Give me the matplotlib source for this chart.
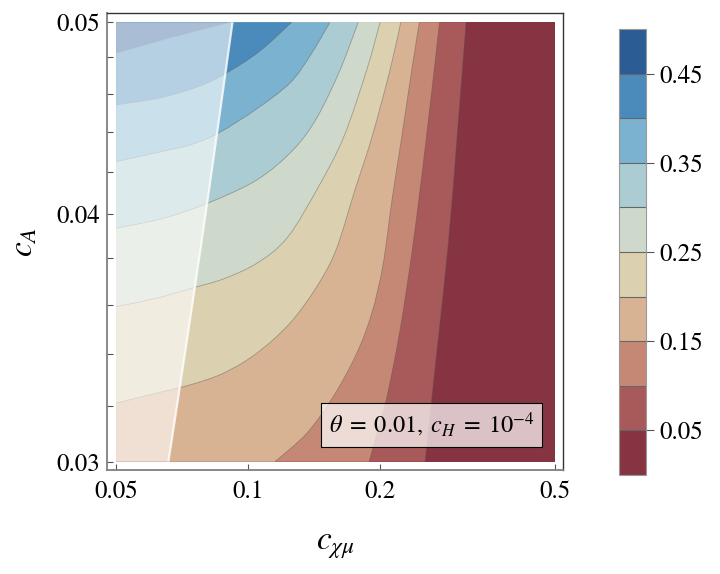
import numpy as np
import matplotlib
matplotlib.use('Agg')
import matplotlib.pyplot as plt
from matplotlib.colors import ListedColormap, BoundaryNorm
from matplotlib.cm import ScalarMappable
from matplotlib.ticker import FixedLocator, NullFormatter, NullLocator
from matplotlib.path import Path
from matplotlib.patches import PathPatch

plt.rcParams['font.family'] = ['STIXGeneral', 'DejaVu Serif']
plt.rcParams['mathtext.fontset'] = 'stix'

# contour levels and band colours (low -> high)
levels = [0.0, 0.05, 0.10, 0.15, 0.20, 0.25, 0.30, 0.35, 0.40, 0.45, 0.50]
band_colors = ['#863442', '#A85A5A', '#C48875', '#D8B393', '#DBD1B0',
               '#CED9CB', '#ABCCD2', '#7BB2CF', '#4A8BBB', '#2B5C94']

# level curves (c_chi_mu, c_A), from start to top edge
c005_x = [0.2528, 0.2692, 0.2857, 0.2999, 0.3135]
c005_y = [0.0300, 0.03417, 0.03869, 0.04412, 0.0500]
c010_x = [0.1885, 0.1976, 0.2071, 0.2218, 0.2373, 0.2542, 0.2728]
c010_y = [0.0300, 0.03113, 0.03236, 0.03497, 0.03860, 0.04360, 0.0500]
c015_x = [0.1151, 0.1360, 0.1563, 0.1767, 0.1912, 0.2028, 0.2126, 0.2238, 0.2358, 0.2454]
c015_y = [0.0300, 0.03101, 0.03236, 0.03403, 0.03565, 0.03771, 0.04067, 0.04377, 0.04730, 0.0500]
c020_x = [0.0500, 0.0598, 0.0737, 0.0878, 0.1046, 0.1245, 0.1433, 0.1585, 0.1751, 0.1915, 0.2104, 0.2226]
c020_y = [0.03211, 0.03243, 0.03280, 0.03325, 0.03403, 0.03524, 0.03677, 0.03837, 0.04115, 0.04377, 0.04730, 0.0500]
c025_x = [0.0500, 0.0619, 0.0750, 0.0878, 0.1046, 0.1226, 0.1433, 0.1647, 0.1862, 0.1997]
c025_y = [0.03592, 0.03628, 0.03672, 0.03710, 0.03778, 0.03891, 0.04115, 0.04371, 0.04730, 0.0500]
c030_x = [0.0500, 0.0641, 0.0810, 0.1046, 0.1265, 0.1433, 0.1619, 0.1781]
c030_y = [0.03935, 0.03981, 0.04052, 0.04162, 0.04310, 0.04474, 0.04730, 0.0500]
c035_x = [0.0500, 0.0630, 0.0737, 0.0855, 0.1046, 0.1245, 0.1383, 0.1536]
c035_y = [0.04252, 0.04300, 0.04335, 0.04395, 0.04521, 0.04659, 0.04808, 0.0500]
c040_x = [0.0500, 0.0630, 0.0777, 0.0901, 0.1064, 0.1256]
c040_y = [0.04542, 0.04579, 0.04643, 0.04719, 0.04836, 0.0500]
c045_x = [0.0500, 0.0664, 0.0909]
c045_y = [0.04823, 0.04910, 0.0500]

# boundary of the shaded (excluded) strip on the left
edge_x = [0.0658, 0.0718, 0.0781, 0.0845, 0.0921]
edge_y = [0.0300, 0.03405, 0.03860, 0.04360, 0.0500]

curves_x = [c005_x, c010_x, c015_x, c020_x, c025_x, c030_x, c035_x, c040_x, c045_x]
curves_y = [c005_y, c010_y, c015_y, c020_y, c025_y, c030_y, c035_y, c040_y, c045_y]

xmin, xmax = 0.05, 0.5
ymin, ymax = 0.03, 0.05


def curve_path(xs, ys, tail=()):
    # smooth bezier through the read points (in log space), then optional straight tail
    p = np.column_stack([np.log10(xs), np.log10(ys)])
    n = len(p)
    verts = [p[0]]
    codes = [Path.MOVETO]
    for i in range(n - 1):
        p0, p1 = p[max(i - 1, 0)], p[i]
        p2, p3 = p[i + 1], p[min(i + 2, n - 1)]
        verts += [p1 + (p2 - p0) / 6, p2 - (p3 - p1) / 6, p2]
        codes += [Path.CURVE4] * 3
    verts = list(10 ** np.array(verts))
    for pt in tail:
        verts.append(pt)
        codes.append(Path.LINETO)
    if tail:
        verts.append(verts[0])
        codes.append(Path.CLOSEPOLY)
    return Path(verts, codes)


fig = plt.figure(figsize=(7.2, 5.74), dpi=100)
ax = fig.add_axes([0.1482, 0.1812, 0.6342, 0.7956])
ax.set_xscale('log')
ax.set_yscale('log')

# bands: paint the lowest band everywhere, then each higher band on top
ax.fill([xmin, xmax, xmax, xmin], [ymin, ymin, ymax, ymax], color=band_colors[0], lw=0)
for cx, cy, col in zip(curves_x, curves_y, band_colors[1:]):
    ax.add_patch(PathPatch(curve_path(cx, cy, [(xmin, ymax), (xmin, cy[0])]), fc=col, lw=0))
for cx, cy in zip(curves_x, curves_y):
    ax.add_patch(PathPatch(curve_path(cx, cy), fill=False, ec='#555555', lw=0.6, alpha=0.45))

# white veil left of the edge
ax.add_patch(PathPatch(curve_path(edge_x, edge_y, [(xmin, ymax), (xmin, ymin)]),
                       fc='white', alpha=0.6, lw=0))
ax.add_patch(PathPatch(curve_path(edge_x, edge_y), fill=False, ec='white', lw=1.6, alpha=0.8))

ax.set_xlim(0.04761, 0.5222)
ax.set_ylim(0.02971, 0.05052)

ax.set_xticks([0.05, 0.1, 0.2, 0.5])
ax.set_xticklabels(['0.05', '0.1', '0.2', '0.5'])
ax.xaxis.set_minor_locator(NullLocator())
ax.set_yticks([0.03, 0.04, 0.05])
ax.set_yticklabels(['0.03', '0.04', '0.05'])
ax.yaxis.set_minor_locator(FixedLocator([0.032, 0.034, 0.036, 0.038, 0.042, 0.044, 0.046, 0.048]))
ax.yaxis.set_minor_formatter(NullFormatter())
ax.tick_params(which='both', direction='in', length=4, width=0.8, color='#555555',
               labelsize=18, top=False, right=False)
ax.tick_params(axis='x', pad=7)
ax.tick_params(axis='y', pad=5)

for s in ['left', 'bottom']:
    ax.spines[s].set_color('#808080')
    ax.spines[s].set_linewidth(1.3)
for s in ['top', 'right']:
    ax.spines[s].set_color('#333333')
    ax.spines[s].set_linewidth(1.0)

ax.set_xlabel(r'$c_{\chi\mu}$', fontsize=24, labelpad=20)
ax.set_ylabel(r'$c_A$', fontsize=24, labelpad=12)

ax.text(0.7118, 0.0985, r'$\theta\;=\;0.01,\;c_H\;=\;10^{-4}$', transform=ax.transAxes,
        ha='center', va='center', fontsize=17.5,
        bbox=dict(boxstyle='square,pad=0.32', fc=(1, 1, 1, 0.7), ec='black', lw=0.8))

# colour bar
cax = fig.add_axes([0.8597, 0.1725, 0.0375, 0.777])
sm = ScalarMappable(norm=BoundaryNorm(levels, len(band_colors)), cmap=ListedColormap(band_colors))
cb = fig.colorbar(sm, cax=cax, ticks=[0.05, 0.15, 0.25, 0.35, 0.45], drawedges=True)
cb.set_ticklabels(['0.05', '0.15', '0.25', '0.35', '0.45'])
cb.dividers.set_color('#666666')
cb.dividers.set_linewidth(0.8)
cb.outline.set_edgecolor('#999999')
cb.outline.set_linewidth(0.8)
cax.tick_params(direction='out', length=6, width=0.8, color='#555555', labelsize=18, pad=4)
cax.minorticks_off()

fig.savefig('out.png', dpi=100)
